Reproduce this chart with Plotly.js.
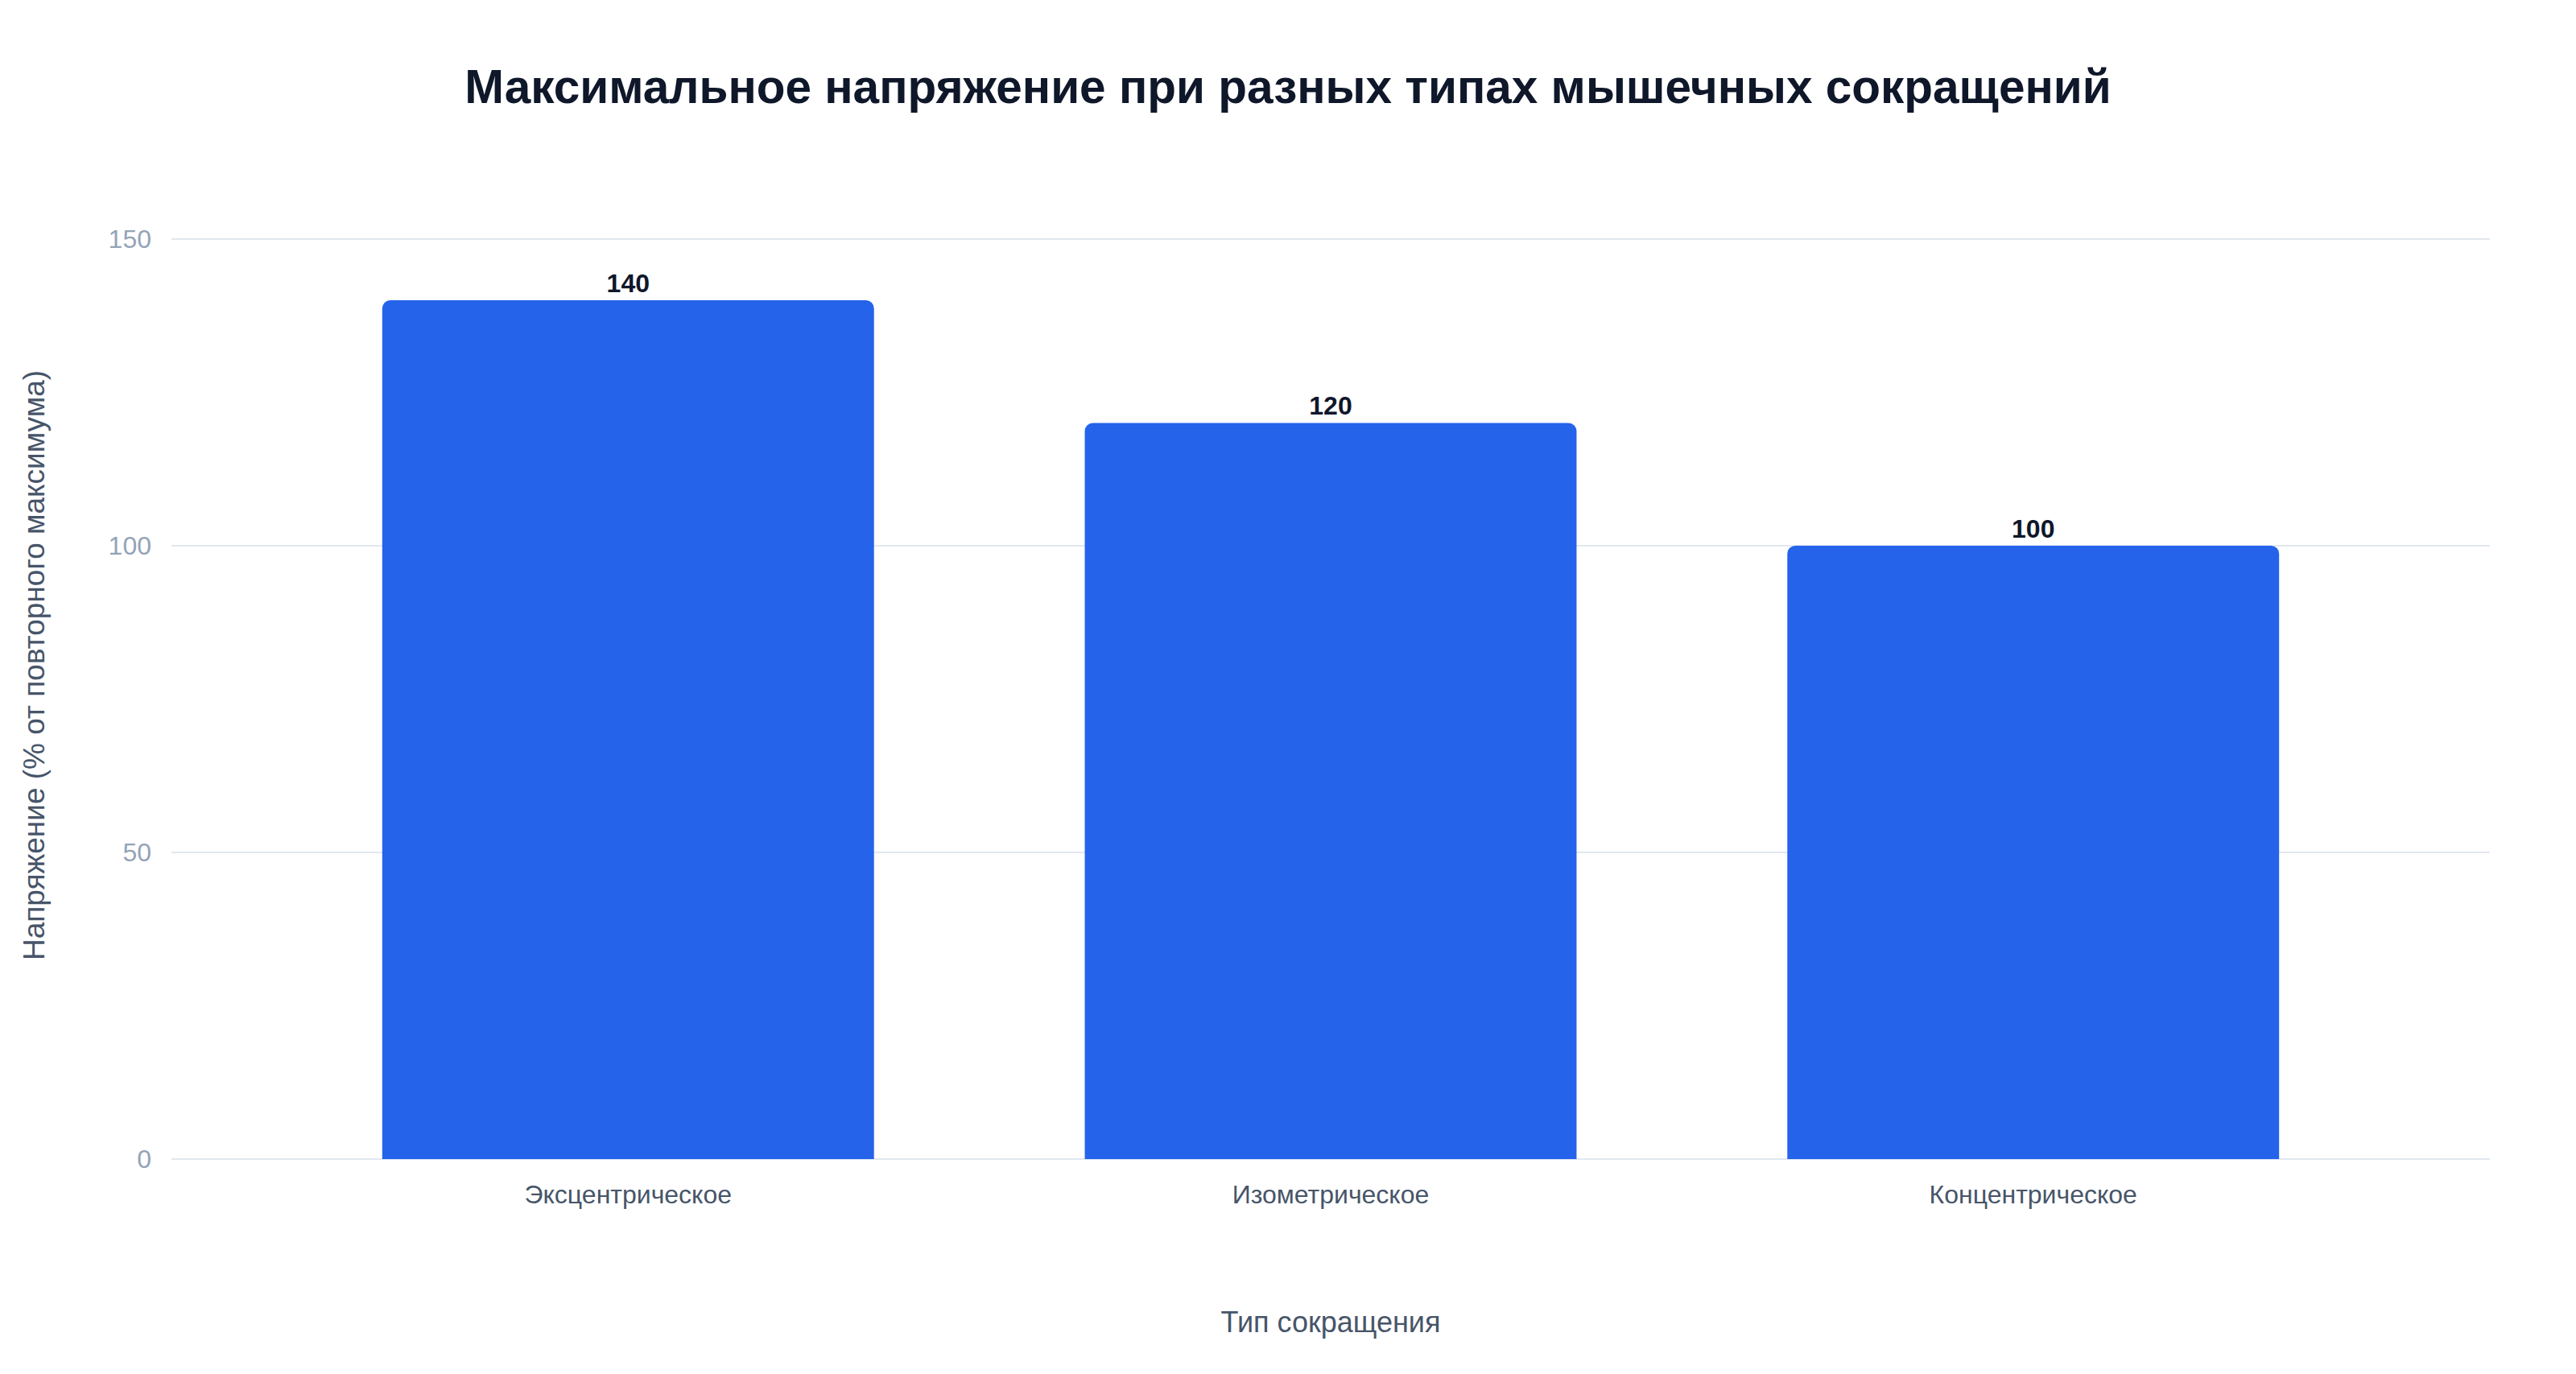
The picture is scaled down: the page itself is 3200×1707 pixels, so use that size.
<!DOCTYPE html>
<html lang="ru">
<head>
<meta charset="utf-8">
<title>Максимальное напряжение</title>
<script src="https://cdn.plot.ly/plotly-3.0.1.min.js"></script>
<style>
    html, body { margin: 0; padding: 0; background: #ffffff; }
    #chart { width: 3200px; height: 1707px; }
</style>
</head>
<body>
<div id="chart"></div>
<script>
// Chart data
const contractionTypes = ['Эксцентрическое', 'Изометрическое', 'Концентрическое'];
const tensionValues = [140, 120, 100];
const yTickValues = [0, 50, 100, 150];

const FONT = '"Liberation Sans", Arial, Helvetica, sans-serif';

const barTrace = {
    type: 'bar',
    x: contractionTypes,
    y: tensionValues,
    width: 0.7,
    text: tensionValues.map(v => String(v)),
    textposition: 'outside',
    cliponaxis: false,
    textfont: { family: FONT, size: 32, color: '#0f172a', weight: 'bold' },
    marker: { color: '#2563eb', cornerradius: 10 },
    hoverinfo: 'x+y'
};

const layout = {
    width: 3200,
    height: 1707,
    margin: { l: 213, r: 107, t: 213, b: 267 },
    paper_bgcolor: '#ffffff',
    plot_bgcolor: '#ffffff',
    showlegend: false,
    font: { family: FONT, color: '#475569' },
    title: {
        text: '<b>Максимальное напряжение при разных типах мышечных сокращений</b>',
        font: { family: FONT, size: 58.5, color: '#0f172a' },
        x: 0.5,
        xanchor: 'center',
        xref: 'container',
        y: 1 - 108 / 1707,
        yref: 'container',
        yanchor: 'middle'
    },
    xaxis: {
        type: 'category',
        range: [-0.65, 2.65],
        showgrid: false,
        zeroline: false,
        showline: false,
        ticks: '',
        ticklabelstandoff: 22,
        tickfont: { family: FONT, size: 32, color: '#475569' },
        automargin: false,
        title: {
            text: 'Тип сокращения',
            font: { family: FONT, size: 36, color: '#475569' },
            standoff: 128
        }
    },
    yaxis: {
        range: [0, 161],
        tickvals: yTickValues,
        showgrid: true,
        gridcolor: '#e2e8f0',
        gridwidth: 2,
        zeroline: true,
        zerolinecolor: '#e2e8f0',
        zerolinewidth: 2,
        showline: false,
        ticks: '',
        ticklabelstandoff: 24,
        tickfont: { family: FONT, size: 32, color: '#94a3b8' },
        automargin: false,
        title: {
            text: 'Напряжение (% от повторного максимума)',
            font: { family: FONT, size: 37, color: '#475569' },
            standoff: 67
        }
    },
    bargap: 0.3
};

Plotly.newPlot('chart', [barTrace], layout, { displayModeBar: false, staticPlot: true });
</script>
</body>
</html>
